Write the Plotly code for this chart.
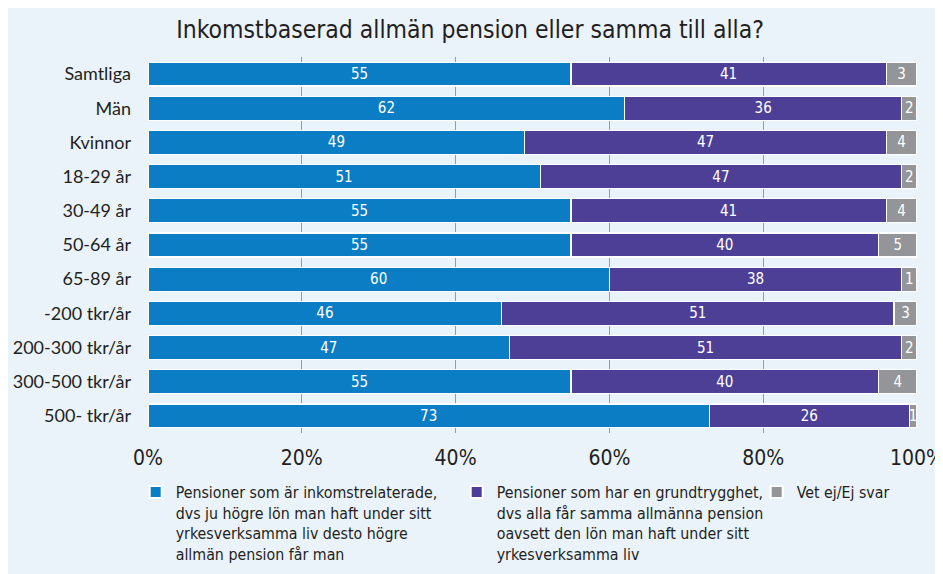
import plotly.graph_objects as go

categories = ["Samtliga", "Män", "Kvinnor", "18-29 år", "30-49 år", "50-64 år",
              "65-89 år", "-200 tkr/år", "200-300 tkr/år", "300-500 tkr/år", "500- tkr/år"]
inkomst = [55, 62, 49, 51, 55, 55, 60, 46, 47, 55, 73]
grund = [41, 36, 47, 47, 41, 40, 38, 51, 51, 40, 26]
vetej = [3, 2, 4, 2, 4, 5, 1, 3, 2, 4, 1]
x_ticks = [0, 20, 40, 60, 80, 100]
x_ticklabels = ["0%", "20%", "40%", "60%", "80%", "100%"]

series_names = [
    "Pensioner som är inkomstrelaterade,<br>dvs ju högre lön man haft under sitt<br>yrkesverksamma liv desto högre<br>allmän pension får man",
    "Pensioner som har en grundtrygghet,<br>dvs alla får samma allmänna pension<br>oavsett den lön man haft under sitt<br>yrkesverksamma liv",
    "Vet ej/Ej svar",
]
colors = ["#0a7dc4", "#4e3f96", "#939598"]
legend_widths = [276, 255, 150]

# grey segment is drawn as the remainder up to 100 %, labelled with its survey value
vetej_drawn = [100 - a - b for a, b in zip(inkomst, grund)]

COND = "DejaVu Sans Condensed, Liberation Sans Narrow, sans-serif"

fig = go.Figure()
for name, vals, texts, col, lw in [
    (series_names[0], inkomst, inkomst, colors[0], legend_widths[0]),
    (series_names[1], grund, grund, colors[1], legend_widths[1]),
    (series_names[2], vetej_drawn, vetej, colors[2], legend_widths[2]),
]:
    fig.add_trace(go.Bar(
        y=categories, x=vals, orientation="h", name=name,
        marker=dict(color=col, line=dict(color="white", width=1.2)),
        text=[str(t) for t in texts], textposition="inside",
        insidetextanchor="middle", textangle=0,
        textfont=dict(color="white", size=15, family=COND),
        constraintext="none",
        width=0.70,
        legendwidth=lw,
    ))

bg = "#eaf2fa"
fig.update_layout(
    barmode="stack",
    width=943, height=574,
    paper_bgcolor=bg, plot_bgcolor=bg,
    margin=dict(l=140, r=34, t=49, b=149, autoexpand=False),
    title=dict(text="Inkomstbaserad allmän pension eller samma till alla?",
               x=0.49, xanchor="center", y=0.962, yanchor="middle",
               font=dict(family=COND, size=24.5, color="#231f20")),
    xaxis=dict(range=[0, 100], tickvals=x_ticks, ticktext=x_ticklabels,
               showgrid=True, gridcolor="#9a9a9a", gridwidth=1,
               zeroline=False, showline=False, ticks="", ticklabelstandoff=10,
               ticklabeloverflow="allow",
               tickfont=dict(family=COND, size=21, color="#231f20")),
    yaxis=dict(categoryorder="array", categoryarray=categories,
               autorange="reversed", showgrid=False, zeroline=False,
               ticks="", ticklabelstandoff=16,
               tickfont=dict(family="Lato, sans-serif", size=18, color="#231f20")),
    legend=dict(orientation="h", x=-0.016, xanchor="left", y=-0.112, yanchor="top",
                bgcolor="rgba(0,0,0,0)", font=dict(family=COND, size=15.8, color="#231f20"),
                traceorder="normal", valign="top", itemsizing="constant"),
    bargap=0.3,
)
fig.write_html("out.html")
